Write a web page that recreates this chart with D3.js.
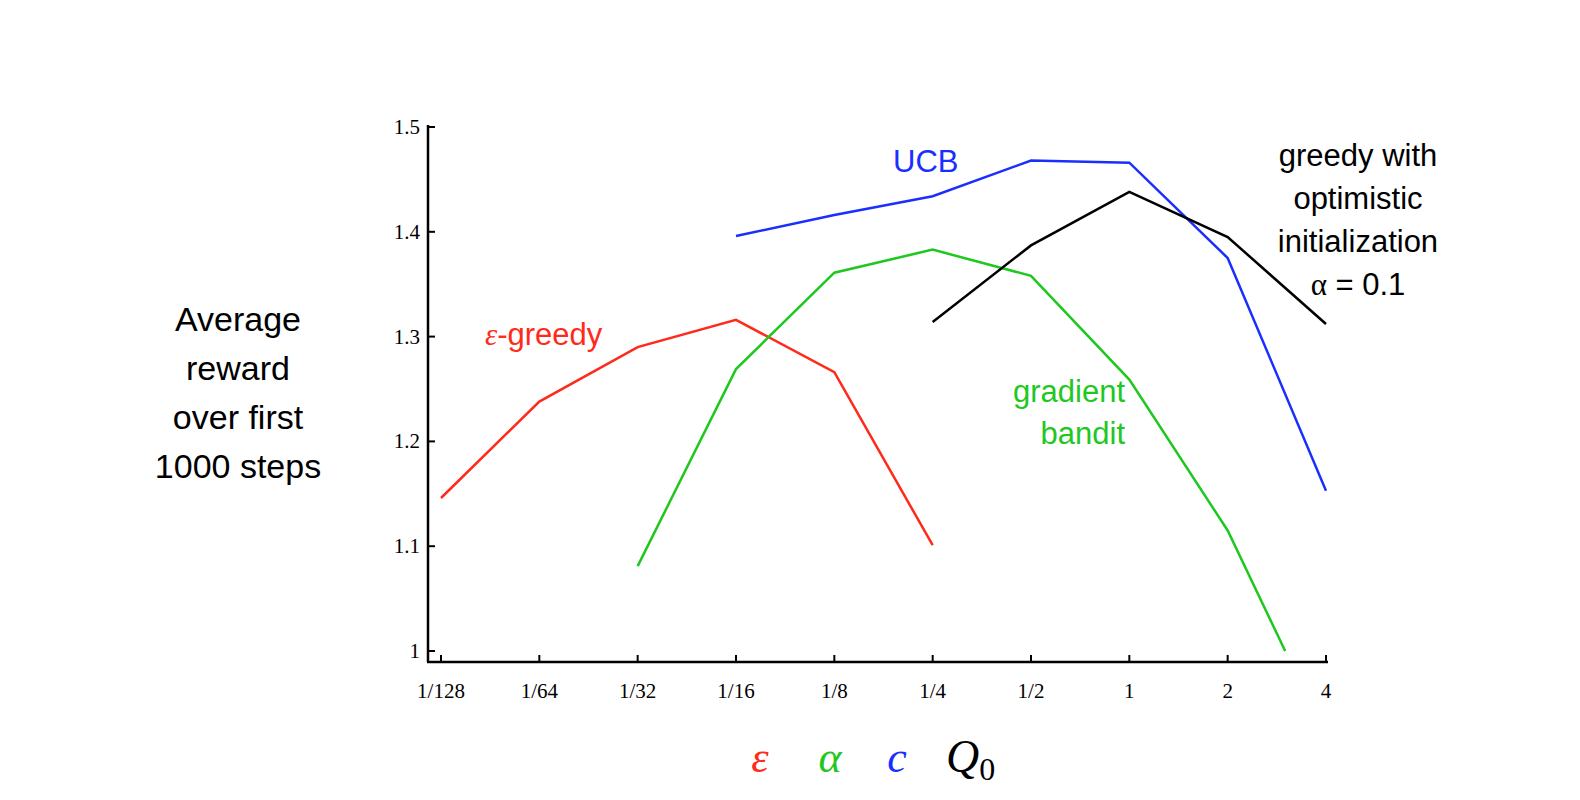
<!DOCTYPE html>
<html><head><meta charset="utf-8">
<script src="https://cdn.jsdelivr.net/npm/d3@7"></script>
<style>body{margin:0;background:#fff}</style>
</head><body><div id="plot"></div>
<script>
// x values are powers of two (log2 exponent)
const xTickExp = [-7, -6, -5, -4, -3, -2, -1, 0, 1, 2];
const xTickLabels = ["1/128", "1/64", "1/32", "1/16", "1/8", "1/4", "1/2", "1", "2", "4"];
const yTicks = [1, 1.1, 1.2, 1.3, 1.4, 1.5];

const epsX = [-7, -6, -5, -4, -3, -2];
const epsY = [1.146, 1.238, 1.290, 1.316, 1.266, 1.101];
const gradX = [-5, -4, -3, -2, -1, 0, 1, Math.log2(3)];
const gradY = [1.081, 1.269, 1.361, 1.383, 1.358, 1.259, 1.115, 1.0];
const ucbX = [-4, -3, -2, -1, 0, 1, 2];
const ucbY = [1.396, 1.416, 1.434, 1.468, 1.466, 1.375, 1.153];
const optX = [-2, -1, 0, 1, 2];
const optY = [1.314, 1.387, 1.438, 1.395, 1.312];

const series = [
  {xs: epsX, ys: epsY, color: "#ff2a1a"},
  {xs: gradX, ys: gradY, color: "#1ec81e"},
  {xs: ucbX, ys: ucbY, color: "#1a2eff"},
  {xs: optX, ys: optY, color: "#000"}
];

const svg = d3.select("#plot").append("svg").attr("width", 1580).attr("height", 800);
const x = d3.scaleLinear().domain([-7, 2]).range([441, 1326]);
const y = d3.scaleLinear().domain([1, 1.5]).range([651, 127]);
const serif = "Liberation Serif, Times New Roman, serif";
const sans = "Liberation Sans, Arial, sans-serif";

// axes
svg.append("line").attr("x1", 428).attr("x2", 428).attr("y1", 125).attr("y2", 662)
  .attr("stroke", "#000").attr("stroke-width", 2.5);
svg.append("line").attr("x1", 427).attr("x2", 1328).attr("y1", 662).attr("y2", 662)
  .attr("stroke", "#000").attr("stroke-width", 2.5);

yTicks.forEach(t => {
  svg.append("line").attr("x1", 428).attr("x2", 435).attr("y1", y(t)).attr("y2", y(t))
    .attr("stroke", "#000").attr("stroke-width", 2);
  svg.append("text").attr("x", 420).attr("y", y(t) + 7).attr("text-anchor", "end")
    .attr("font-family", serif).attr("font-size", 21).text(t === 1 ? "1" : t.toFixed(1));
});
xTickExp.forEach((t, i) => {
  svg.append("line").attr("x1", x(t)).attr("x2", x(t)).attr("y1", 662).attr("y2", 655)
    .attr("stroke", "#000").attr("stroke-width", 2);
  svg.append("text").attr("x", x(t)).attr("y", 698).attr("text-anchor", "middle")
    .attr("font-family", serif).attr("font-size", 21).text(xTickLabels[i]);
});

const line = d3.line().x(d => x(d[0])).y(d => y(d[1]));
series.forEach(s => {
  svg.append("path").datum(s.xs.map((v, i) => [v, s.ys[i]]))
    .attr("d", line).attr("fill", "none").attr("stroke", s.color).attr("stroke-width", 2.5);
});

// y label
["Average", "reward", "over first", "1000 steps"].forEach((t, i) => {
  svg.append("text").attr("x", 238).attr("y", 331 + i * 49).attr("text-anchor", "middle")
    .attr("font-family", sans).attr("font-size", 34).text(t);
});

// series labels
const eg = svg.append("text").attr("x", 485).attr("y", 345).attr("font-family", sans)
  .attr("font-size", 31).attr("fill", "#ff2a1a");
eg.append("tspan").attr("font-family", serif).attr("font-style", "italic").text("ε");
eg.append("tspan").text("-greedy");
svg.append("text").attr("x", 893).attr("y", 172).attr("font-family", sans)
  .attr("font-size", 31).attr("fill", "#1a2eff").text("UCB");
["gradient", "bandit"].forEach((t, i) => {
  svg.append("text").attr("x", 1125).attr("y", 402 + i * 42).attr("text-anchor", "end")
    .attr("font-family", sans).attr("font-size", 31).attr("fill", "#1ec81e").text(t);
});
["greedy with", "optimistic", "initialization"].forEach((t, i) => {
  svg.append("text").attr("x", 1358).attr("y", 166 + i * 43).attr("text-anchor", "middle")
    .attr("font-family", sans).attr("font-size", 31).text(t);
});
const al = svg.append("text").attr("x", 1358).attr("y", 295).attr("text-anchor", "middle")
  .attr("font-family", sans).attr("font-size", 31);
al.append("tspan").attr("font-family", serif).text("α");
al.append("tspan").text(" = 0.1");

// x label symbols
const xl = [["ε", "#ff2a1a", 760], ["α", "#1ec81e", 830], ["c", "#1a2eff", 897]];
xl.forEach(d => {
  svg.append("text").attr("x", d[2]).attr("y", 772).attr("text-anchor", "middle")
    .attr("font-family", serif).attr("font-style", "italic").attr("font-size", 44)
    .attr("fill", d[1]).text(d[0]);
});
const q = svg.append("text").attr("x", 946).attr("y", 772).attr("font-family", serif)
  .attr("font-style", "italic").attr("font-size", 46);
q.append("tspan").text("Q");
q.append("tspan").attr("font-style", "normal").attr("font-size", 32).attr("dy", 8).text("0");
</script></body></html>
